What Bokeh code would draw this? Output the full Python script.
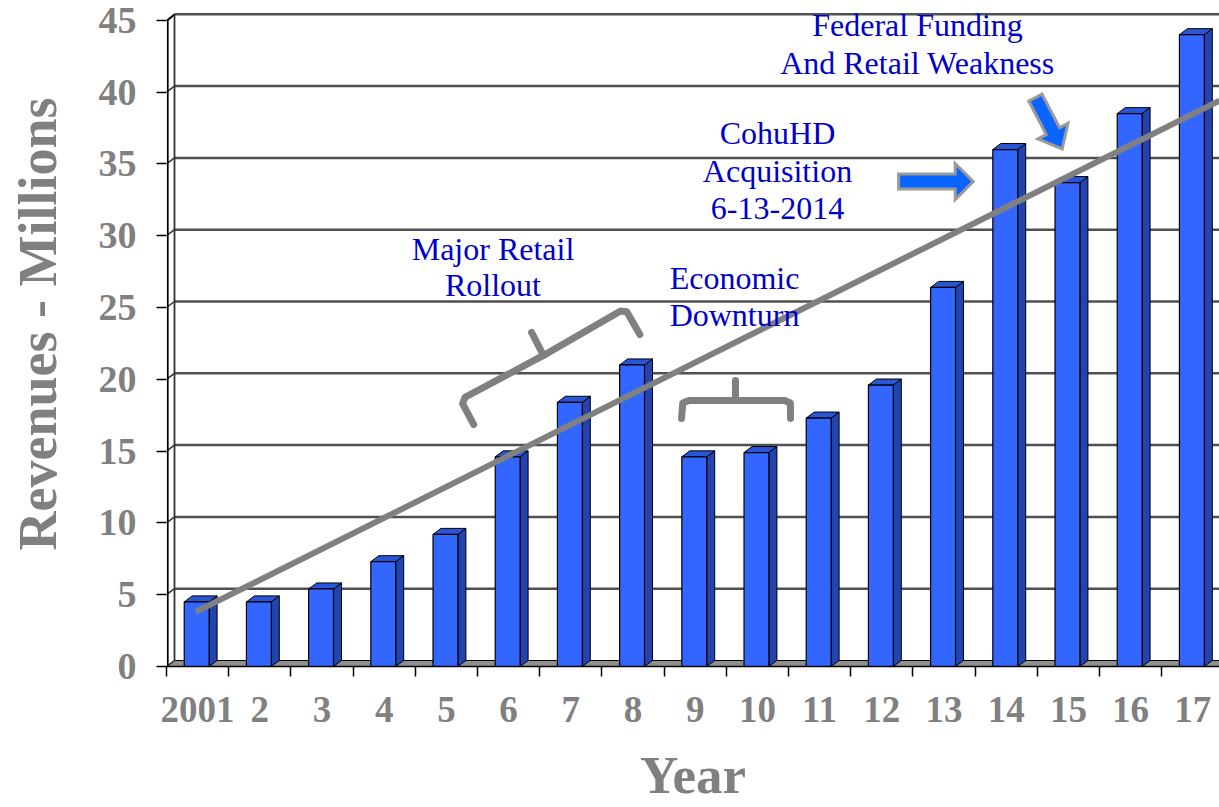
import math
from bokeh.plotting import figure
from bokeh.models import FixedTicker, Range1d
from bokeh.core.properties import value
from bokeh.embed import file_html
from bokeh.resources import INLINE

# ---------------- data ----------------
year_labels = ["2001", "2", "3", "4", "5", "6", "7", "8", "9", "10",
               "11", "12", "13", "14", "15", "16", "17"]
revenues = [4.5, 4.5, 5.4, 7.3, 9.2, 14.6, 18.4, 21.0, 14.6, 14.9,
            17.3, 19.6, 26.4, 36.0, 33.7, 38.5, 44.0]
y_ticks = [0, 5, 10, 15, 20, 25, 30, 35, 40, 45]
trend_x = [-0.03, 16.43]
trend_y = [3.8, 39.4]

# ---------------- layout ----------------
W, H = 1219, 807
FL, FR, FT, FB = 166, 1219, 8, 666
CAT_PX = 62.2
UNIT_PX = 14.36
x_start = -0.5
x_end = x_start + (FR - FL) / CAT_PX
y_end = (FB - FT) / UNIT_PX

DX = 8 / CAT_PX      # 3D depth offset (x, data units)
DY = 6 / UNIT_PX     # 3D depth offset (y, data units)

GRAY = "#808080"
FONT = value("Liberation Serif")

p = figure(width=W, height=H, title=None,
           x_range=Range1d(x_start, x_end), y_range=Range1d(0, y_end),
           output_backend="svg", toolbar_location=None,
           min_border_left=FL, min_border_right=W - FR,
           min_border_top=FT, min_border_bottom=H - FB)
p.outline_line_color = None
p.xgrid.visible = False
p.ygrid.visible = False
p.background_fill_color = "white"
p.border_fill_color = "white"

# ---------------- axes ----------------
n = len(revenues)
xs = list(range(n))
p.xaxis.ticker = FixedTicker(ticks=xs, minor_ticks=[k - 0.5 for k in range(n + 1)])
p.xaxis.major_label_overrides = {i: lab for i, lab in enumerate(year_labels)}
p.xaxis.major_tick_out = 10
p.xaxis.major_tick_in = 0
p.xaxis.major_tick_line_color = None
p.xaxis.minor_tick_out = 10
p.xaxis.minor_tick_in = 0
p.xaxis.minor_tick_line_color = "black"
p.xaxis.minor_tick_line_width = 1.5
p.xaxis.axis_line_color = "black"
p.xaxis.axis_line_width = 1.5
p.xaxis.major_label_standoff = 20
p.xaxis.major_label_text_font = "Liberation Serif"
p.xaxis.major_label_text_font_style = "bold"
p.xaxis.major_label_text_font_size = "37px"
p.xaxis.major_label_text_color = GRAY
p.xaxis.axis_label = "Year"
p.xaxis.axis_label_text_font = "Liberation Serif"
p.xaxis.axis_label_text_font_style = "bold"
p.xaxis.axis_label_text_font_size = "53px"
p.xaxis.axis_label_text_color = GRAY
p.xaxis.axis_label_standoff = 21

p.yaxis.ticker = FixedTicker(ticks=y_ticks, minor_ticks=[])
p.yaxis.axis_line_color = None
p.yaxis.major_tick_out = 10
p.yaxis.major_tick_in = 0
p.yaxis.major_tick_line_color = "black"
p.yaxis.major_tick_line_width = 1.5
p.yaxis.minor_tick_line_color = None
p.yaxis.major_label_standoff = 20
p.yaxis.major_label_text_font = "Liberation Serif"
p.yaxis.major_label_text_font_style = "bold"
p.yaxis.major_label_text_font_size = "38px"
p.yaxis.major_label_text_color = GRAY
p.yaxis.axis_label = "\u00a0\u00a0Revenues - Millions"
p.yaxis.axis_label_text_font = "Liberation Serif"
p.yaxis.axis_label_text_font_style = "bold"
p.yaxis.axis_label_text_font_size = "54px"
p.yaxis.axis_label_text_color = GRAY
p.yaxis.axis_label_standoff = 28

# ---------------- 3D frame: floor, back wall grid ----------------
x0 = x_start
top = y_ticks[-1]
# floor
p.patch([x0, x_end, x_end, x0 + DX], [0, 0, DY, DY],
        fill_color="#8f8f8f", line_color="black", line_width=1)
# back wall gridlines
p.multi_line([[x0 + DX, x_end] for t in y_ticks[1:]],
             [[t + DY, t + DY] for t in y_ticks[1:]],
             line_color="#505050", line_width=2.5)
# side-wall slants
p.multi_line([[x0, x0 + DX] for t in y_ticks],
             [[t, t + DY] for t in y_ticks],
             line_color="#333333", line_width=1.5)
# back-wall left edge and front axis line
p.line([x0 + DX, x0 + DX], [DY, top + DY], line_color="#333333", line_width=1.8)
p.line([x0 + 0.02, x0 + 0.02, x0 + DX], [0, top, top + DY],
       line_color="black", line_width=1.8)

# ---------------- 3D bars ----------------
L_OFF, R_OFF = -0.215, 0.185
lefts = [x + L_OFF for x in xs]
rights = [x + R_OFF for x in xs]
# side faces
p.patches([[r, r + DX, r + DX, r] for r in rights],
          [[0, DY, v + DY, v] for v in revenues],
          fill_color="#2243B0", line_color="black", line_width=1)
# top faces
p.patches([[l, r, r + DX, l + DX] for l, r in zip(lefts, rights)],
          [[v, v, v + DY, v + DY] for v in revenues],
          fill_color="#2A55D6", line_color="black", line_width=1)
# front faces
p.quad(left=lefts, right=rights, bottom=0, top=revenues,
       fill_color="#3366FF", line_color="black", line_width=1.2)

# ---------------- trend line ----------------
p.line(trend_x, trend_y, line_color=GRAY, line_width=6)

# ---------------- braces ----------------
brace1_x = [4.44, 4.26, 4.30, 5.56, 5.37]
brace1_y = [16.85, 18.3, 18.75, 21.66, 23.26]
brace1b_x = [5.56, 6.80, 6.90, 7.11]
brace1b_y = [21.66, 24.76, 24.70, 23.12]
brace2_x = [7.78, 7.80, 7.90, 8.648, 8.648]
brace2_y = [17.27, 18.35, 18.52, 18.52, 19.92]
brace2b_x = [8.648, 9.44, 9.53, 9.532]
brace2b_y = [18.52, 18.52, 18.35, 17.27]
p.multi_line([brace1_x, brace1b_x, brace2_x, brace2b_x],
             [brace1_y, brace1b_y, brace2_y, brace2b_y],
             line_color=GRAY, line_width=7, line_join="round", line_cap="round")

# ---------------- arrows ----------------
def arrow_shape(xa, ya, xb, yb, shaft_w, head_w, head_len):
    X0, Y0, X1, Y1 = xa * CAT_PX, ya * UNIT_PX, xb * CAT_PX, yb * UNIT_PX
    L = math.hypot(X1 - X0, Y1 - Y0)
    ux, uy = (X1 - X0) / L, (Y1 - Y0) / L
    nx, ny = -uy, ux
    bx, by = X1 - ux * head_len, Y1 - uy * head_len
    s, h = shaft_w / 2, head_w / 2
    pts = [(X0 + nx * s, Y0 + ny * s), (bx + nx * s, by + ny * s),
           (bx + nx * h, by + ny * h), (X1, Y1),
           (bx - nx * h, by - ny * h), (bx - nx * s, by - ny * s),
           (X0 - nx * s, Y0 - ny * s)]
    return [q[0] / CAT_PX for q in pts], [q[1] / UNIT_PX for q in pts]

a1x, a1y = arrow_shape(11.27, 33.77, 12.47, 33.77, 15, 36, 18)
a2x, a2y = arrow_shape(13.47, 39.62, 13.90, 36.05, 15, 34, 20)
p.patches([a1x, a2x], [a1y, a2y], fill_color="#0A64FF",
          line_color="#9a9a9a", line_width=3, line_join="miter")

# ---------------- annotation texts ----------------
note_text = ["Federal Funding", "And Retail Weakness",
             "CohuHD", "Acquisition", "6-13-2014",
             "Major Retail", "Rollout",
             "Economic", "Downturn"]
note_x = [11.574, 11.574, 9.323, 9.323, 9.323, 4.749, 4.749, 8.632, 8.632]
note_y = [44.66, 42.02, 37.14, 34.53, 31.92, 29.06, 26.56, 27.04, 24.47]
p.text(x=note_x, y=note_y, text=note_text, text_font=FONT,
       text_font_size="32px", text_color="#0000CC",
       text_align="center", text_baseline="alphabetic")

open("out.html", "w").write(file_html(p, INLINE))
